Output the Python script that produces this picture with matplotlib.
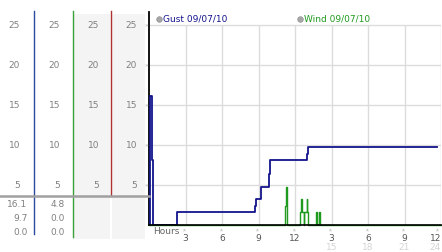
import matplotlib
matplotlib.use("Agg")
import matplotlib.pyplot as plt
import matplotlib.transforms as mtransforms
from matplotlib.patches import Rectangle
from matplotlib.lines import Line2D

# ---------------- data ----------------
gust_hours = [0.0, 0.05, 0.25, 0.32, 2.32, 8.70, 8.82, 9.23, 9.85, 9.95, 13.00, 13.08, 23.65]
gust_vals = [0.0, 16.1, 8.1, 0.0, 1.6, 2.4, 3.2, 4.8, 6.4, 8.1, 8.9, 9.7, 9.7]

wind_hours = [0.0, 11.20, 11.27, 11.34, 12.45, 12.52, 12.58, 12.70, 12.74, 12.95, 13.01, 13.07,
              13.74, 13.82, 13.96, 14.06, 24.0]
wind_vals = [0.0, 2.4, 4.8, 0.0, 1.6, 3.2, 1.6, 0.0, 1.6, 3.2, 1.6, 0.0,
             1.6, 0.0, 1.6, 0.0, 0.0]

y_ticks = [5, 10, 15, 20, 25]
x_ticks = [3, 6, 9, 12, 15, 18, 21, 24]
x_labels = ["3", "6", "9", "12", "3", "6", "9", "12"]
x_labels2 = ["", "", "", "", "15", "18", "21", "24"]

gust_stats = ["16.1", "9.7", "0.0"]
wind_stats = ["4.8", "0.0", "0.0"]
legend_labels = ["Gust 09/07/10", "Wind 09/07/10"]

# ---------------- figure ----------------
W, H = 442, 253
fig = plt.figure(figsize=(W / 100, H / 100), dpi=100)
plt.rcParams['font.family'] = ['DejaVu Sans']

def fx(px):
    return px / W

def fy(py):
    return 1 - py / H

GUST_C = "#14148c"
WIND_C = "#1f9a1f"
TXT_C = "#808080"
FS = 6.5

ax = fig.add_axes([fx(149), fy(226), fx(441) - fx(149), fy(13) - fy(226)])
ax.set_xlim(0, 24)
ax.set_ylim(0, 26.6)
ax.set_facecolor("none")
for s in ["top", "right"]:
    ax.spines[s].set_visible(False)
ax.spines["left"].set_color("black")
ax.spines["left"].set_linewidth(1.3)
ax.spines["bottom"].set_color("black")
ax.spines["bottom"].set_linewidth(1.2)
ax.spines["bottom"].set_zorder(6)
ax.tick_params(length=0, labelleft=False, labelbottom=False)
ax.set_xticks([])
ax.set_yticks([])

# grid
for v in y_ticks:
    ax.plot([0, 24], [v, v], color="#dcdcdc", lw=1.0, zorder=1)
ax.vlines(x_ticks, 0, 25, color="#dcdcdc", lw=1.0, zorder=1)

# series
ax.plot(wind_hours, wind_vals, drawstyle="steps-post", color=WIND_C, lw=1.0, zorder=3,
        clip_on=False)
ax.plot(gust_hours, gust_vals, drawstyle="steps-post", color=GUST_C, lw=1.3, zorder=4)

# y tick marks
ytr = mtransforms.blended_transform_factory(fig.transFigure, ax.transData)
for v in y_ticks:
    fig.text(fx(146.5), v, "»", transform=ytr, fontsize=4.5, color="#a0a0a0",
             ha="center", va="center")

# x tick labels
xtr = mtransforms.blended_transform_factory(ax.transData, fig.transFigure)
for i, (t, l1, l2) in enumerate(zip(x_ticks, x_labels, x_labels2)):
    last = i == len(x_ticks) - 1
    ha = "right" if last else "center"
    fig.text(t, fy(229.5), "»", transform=xtr, fontsize=4.5, color="#a0a0a0",
             ha=ha, va="center", rotation=90)
    fig.text(t, fy(238.5), l1, transform=xtr, fontsize=FS, color="#555555",
             ha=ha, va="center")
    if l2:
        fig.text(t, fy(247.5), l2, transform=xtr, fontsize=FS, color="#d4d4d4",
                 ha=ha, va="center")
fig.text(fx(153), fy(231.5), "Hours", fontsize=FS, color="#666666", ha="left", va="center")

# legend
fig.add_artist(Line2D([fx(159)], [fy(19.5)], marker="o", markersize=4.0,
                      markerfacecolor="#a8a8a8", markeredgecolor="#909090",
                      markeredgewidth=0.5, transform=fig.transFigure))
fig.text(fx(163), fy(19.5), legend_labels[0], fontsize=FS, color=GUST_C, ha="left", va="center")
fig.add_artist(Line2D([fx(300)], [fy(19.5)], marker="o", markersize=4.0,
                      markerfacecolor="#a8a8a8", markeredgecolor="#909090",
                      markeredgewidth=0.5, transform=fig.transFigure))
fig.text(fx(304), fy(19.5), legend_labels[1], fontsize=FS, color=WIND_C, ha="left", va="center")

# ---------------- left panel ----------------
fig.add_artist(Rectangle((fx(73), fy(240)), fx(110) - fx(73), fy(15) - fy(240),
                         transform=fig.transFigure, facecolor="#f4f4f4", edgecolor="none",
                         zorder=0))
fig.add_artist(Rectangle((fx(112), fy(240)), fx(145) - fx(112), fy(15) - fy(240),
                         transform=fig.transFigure, facecolor="#f4f4f4", edgecolor="none",
                         zorder=0))

col_right = [20, 60, 99, 137]
for xr in col_right:
    for v in y_ticks:
        fig.text(fx(xr), v, str(v), transform=ytr, fontsize=FS, color=TXT_C,
                 ha="right", va="center")

fig.add_artist(Line2D([fx(33.5), fx(33.5)], [fy(12), fy(235)], color="#2a4aa0", lw=1.0,
                      transform=fig.transFigure))
fig.add_artist(Line2D([fx(72.5), fx(72.5)], [fy(12), fy(238)], color="#3aa03a", lw=1.0,
                      transform=fig.transFigure))
fig.add_artist(Line2D([fx(111), fx(111)], [fy(12), fy(197)], color="#b03030", lw=1.0,
                      transform=fig.transFigure))
fig.add_artist(Line2D([fx(0), fx(149)], [fy(197), fy(197)], color="#a0a0a0", lw=1.8,
                      transform=fig.transFigure))

stat_y = [204.3, 218.3, 232.3]
for yy, g, w in zip(stat_y, gust_stats, wind_stats):
    fig.text(fx(27.5), fy(yy), g, fontsize=FS, color=TXT_C, ha="right", va="center")
    fig.text(fx(65), fy(yy), w, fontsize=FS, color=TXT_C, ha="right", va="center")

fig.savefig("out.png", dpi=100, facecolor="white")
